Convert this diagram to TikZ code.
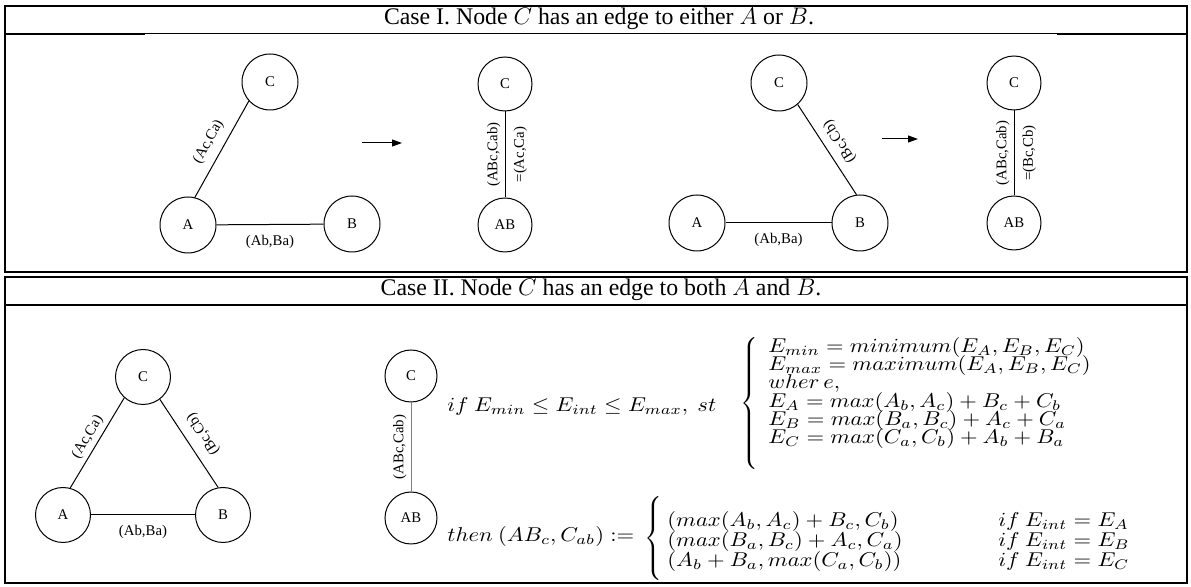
\documentclass[tikz,border=0pt]{standalone}
\usepackage{graphicx}
\usepackage{fontspec}
\setmainfont{Liberation Serif}
\usepackage{tikz}
\usetikzlibrary{positioning, arrows.meta}

\newcommand{\wideeq}[1]{\scalebox{1.13}[1]{$#1$}}

\begin{document}
\begin{tikzpicture}[
    x=0.5pt, y=-0.5pt,
    vertex/.style={circle, draw, line width=0.5pt, inner sep=0pt, minimum size=28pt, font=\fontsize{7.4}{9}\selectfont},
    link/.style={line width=0.5pt},
    elabel/.style={font=\fontsize{7.4}{9}\selectfont, inner sep=0pt},
    caption/.style={font=\fontsize{11.9}{14}\selectfont, inner sep=0pt},
    eqn/.style={font=\fontsize{9.7}{12}\selectfont, inner sep=0pt, anchor=base west},
    brace/.style={font=\fontsize{11.5}{14}\selectfont, inner sep=0pt},
    flow/.style={line width=0.5pt, -{Triangle[length=5pt, width=3.5pt]}},
    frame/.style={line width=1pt},
    rule/.style={line width=0.5pt}
]
\useasboundingbox (0,0) rectangle (1191,587);

% frames of the two cases
\draw[frame] (5,6) rectangle (1187,272);
\draw[rule] (5,34) -- (1187,34);
\draw[frame] (5,34) -- (145,34);
\draw[frame] (1057,34) -- (1187,34);
\draw[frame] (5,277) rectangle (1187,583);
\draw[frame] (5,305) -- (1187,305);

% Case I
\node[caption] (title1) at (599,19) {Case I. Node $C$ has an edge to either $A$ or $B$.};

\node[vertex] (c1) at (270,82) {C};
\node[vertex] (a1) at (188,225) {A};
\node[vertex] (b1) at (352,224) {B};
\node[vertex, minimum size=27pt] (c2) at (505,84) {C};
\node[vertex, minimum size=27pt] (ab2) at (505,225) {AB};

\draw[link] (a1) -- node[elabel, below=5pt] {(Ab,Ba)} (b1);
\draw[link] (a1.76) -- node[elabel, sloped, above=4pt] {(Ac,Ca)} (c1.222);
\draw[link] (ab2) -- node[elabel, sloped, above=2pt] {(ABc,Cab)}
                    node[elabel, sloped, below=4pt] {=(Ac,Ca)} (c2);
\coordinate (go1) at (362,143);
\coordinate (to1) at (402,143);
\draw[flow] (go1) -- (to1);

\node[vertex] (c3) at (779,83) {C};
\node[vertex] (a3) at (697,223) {A};
\node[vertex] (b3) at (860,223) {B};
\node[vertex, minimum size=27pt] (c4) at (1014,83) {C};
\node[vertex, minimum size=27pt] (ab4) at (1014,223) {AB};

\draw[link] (a3) -- node[elabel, below=5pt] {(Ab,Ba)} (b3);
\draw[link] (b3.97) -- node[elabel, sloped, allow upside down, below=4pt] {(Bc,Cb)} (c3.311);
\draw[link] (ab4) -- node[elabel, sloped, above=2pt] {(ABc,Cab)}
                    node[elabel, sloped, below=4pt] {=(Bc,Cb)} (c4);
\coordinate (go2) at (882,139);
\coordinate (to2) at (918,139);
\draw[flow] (go2) -- (to2);

% Case II
\node[caption] (title2) at (601,290) {Case II. Node $C$ has an edge to both $A$ and $B$.};

\node[vertex, minimum size=27.5pt] (c5) at (143,377) {C};
\node[vertex, minimum size=27.5pt] (a5) at (63,515) {A};
\node[vertex, minimum size=27.5pt] (b5) at (223,515) {B};
\node[vertex, minimum size=26pt] (c6) at (411,376) {C};
\node[vertex, minimum size=26pt] (ab6) at (411,518) {AB};

\draw[link] (a5) -- node[elabel, below=5pt] {(Ab,Ba)} (b5);
\draw[link] (a5.75) -- node[elabel, sloped, above=2pt] {(Ac,Ca)} (c5.228);
\draw[link] (b5.100) -- node[elabel, sloped, allow upside down, below=5pt] {(Bc,Cb)} (c5.307);
\draw[link, gray] (ab6) -- node[elabel, black, sloped, above=2pt] {(ABc,Cab)} (c6);

\node[eqn] (cond) at (447,412) {\wideeq{if\ E_{min} \leq E_{int} \leq E_{max},\ st}};
\node[brace] (brace1) at (751,406) {$\left\{\vrule height 32pt depth 32pt width 0pt\right.$};
\node[eqn] (emin) at (768,353) {\wideeq{E_{min} = minimum(E_A, E_B, E_C)}};
\node[eqn] (emax) at (768,371) {\wideeq{E_{max} = maximum(E_A, E_B, E_C)}};
\node[eqn] (where) at (768,389) {\wideeq{wher\,e,}};
\node[eqn] (ea) at (768,408) {\wideeq{E_A = max(A_b, A_c) + B_c + C_b}};
\node[eqn] (eb) at (768,426) {\wideeq{E_B = max(B_a, B_c) + A_c + C_a}};
\node[eqn] (ec) at (768,444) {\wideeq{E_C = max(C_a, C_b) + A_b + B_a}};

\node[eqn] (then) at (447,542) {\wideeq{then\ (AB_c, C_{ab}) :=}};
\node[brace] (brace2) at (655,540) {$\left\{\vrule height 19.5pt depth 19.5pt width 0pt\right.$};
\node[eqn] (ra) at (667,527) {\wideeq{(max(A_b, A_c) + B_c, C_b)}};
\node[eqn] (rb) at (667,547) {\wideeq{(max(B_a, B_c) + A_c, C_a)}};
\node[eqn] (rc) at (667,567) {\wideeq{(A_b + B_a, max(C_a, C_b))}};
\node[eqn] (ia) at (998,527) {\wideeq{if\ E_{int} = E_A}};
\node[eqn] (ib) at (998,547) {\wideeq{if\ E_{int} = E_B}};
\node[eqn] (ic) at (998,567) {\wideeq{if\ E_{int} = E_C}};
\end{tikzpicture}
\end{document}
